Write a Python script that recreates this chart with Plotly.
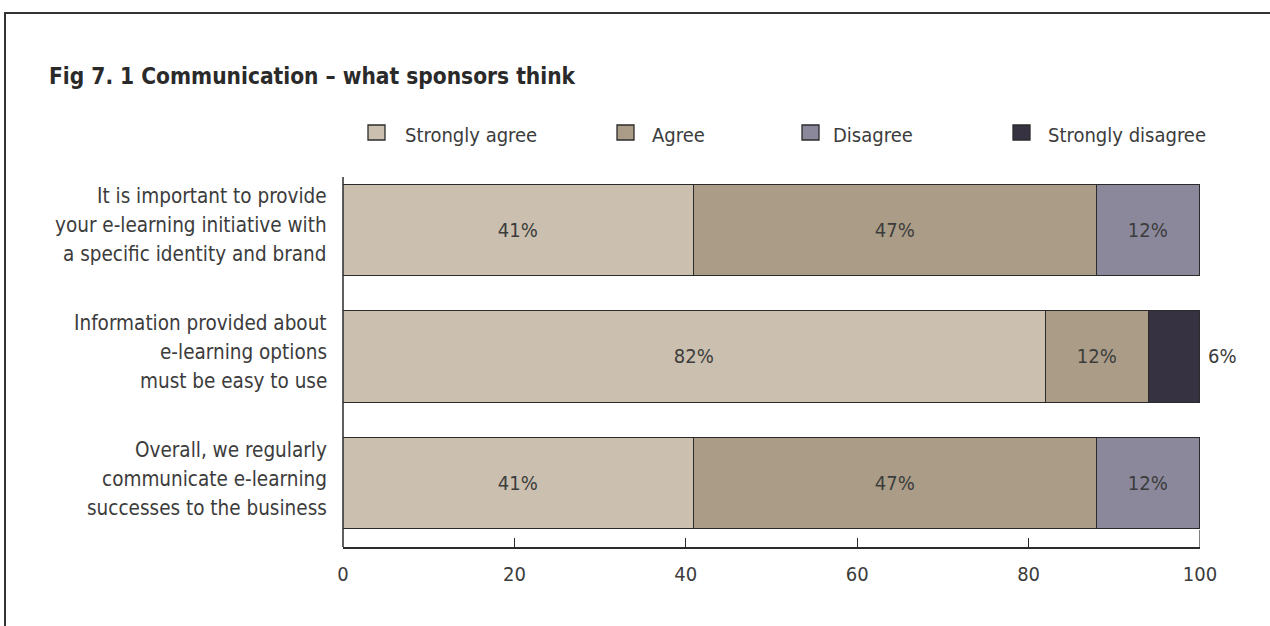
import plotly.graph_objects as go

# Survey statements (one bar each, top to bottom)
categories = [
    "It is important to provide<br>your e-learning initiative with<br>a specific identity and brand",
    "Information provided about<br>e-learning options<br>must be easy to use",
    "Overall, we regularly<br>communicate e-learning<br>successes to the business",
]

# Response shares, in percent
series_names = ["Strongly agree", "Agree", "Disagree", "Strongly disagree"]
strongly_agree = [41, 82, 41]
agree = [47, 12, 47]
disagree = [12, 0, 12]
strongly_disagree = [0, 6, 0]

x_ticks = [0, 20, 40, 60, 80, 100]

title_text = "Fig 7. 1 Communication – what sponsors think"

# ---- styling -------------------------------------------------------------
colors = ["#cbc0af", "#ab9c88", "#8b889b", "#373242"]
edge = "#2b2b2b"
text_col = "#3c3c3c"
FONT = "Liberation Sans Narrow, DejaVu Sans Condensed, Arial Narrow, sans-serif"

W, H = 1270, 626
L, R, T, B = 343, 70, 167, 79
plot_w = W - L - R
plot_h = H - T - B
LINE_GAP = 29  # spacing between lines of a statement label


def px_x(px):
    return (px - L) / plot_w


def px_y(py):
    return (H - B - py) / plot_h


series_values = [strongly_agree, agree, disagree, strongly_disagree]

fig = go.Figure()
for i, (name, vals, col) in enumerate(zip(series_names, series_values, colors)):
    last = i == len(series_names) - 1
    fig.add_trace(go.Bar(
        y=categories,
        x=vals,
        name=name,
        orientation="h",
        width=0.72,
        marker=dict(color=col, line=dict(color=edge, width=1.3)),
        # the outside label sits a little clear of the bar end
        text=[(("\u00a0" if last else "") + f"{v}%") if v else "" for v in vals],
        textposition="outside" if last else "inside",
        insidetextanchor="middle",
        constraintext="none",
        textfont=dict(family=FONT, size=20, color=text_col),
        cliponaxis=False,
        hoverinfo="skip",
        showlegend=False,
    ))

fig.update_layout(
    width=W, height=H,
    margin=dict(l=L, r=R, t=T, b=B, pad=0),
    barmode="stack",
    bargap=0,
    paper_bgcolor="white",
    plot_bgcolor="white",
    font=dict(family=FONT, color=text_col),
    xaxis=dict(
        range=[0, 100],
        tickvals=x_ticks,
        ticktext=[str(t) for t in x_ticks],
        ticks="inside",
        ticklen=9,
        tickwidth=1,
        tickcolor=edge,
        showline=True,
        linecolor=edge,
        linewidth=1.5,
        showgrid=False,
        zeroline=False,
        ticklabelstandoff=8,
        tickfont=dict(family=FONT, size=20, color=text_col),
        fixedrange=True,
    ),
    yaxis=dict(
        type="category",
        categoryorder="array",
        categoryarray=categories,
        range=[2.5, -0.5],
        showticklabels=False,
        ticks="",
        showline=False,
        showgrid=False,
        zeroline=False,
        fixedrange=True,
    ),
)

# statement labels to the left of each bar, one line at a time
for i, cat in enumerate(categories):
    lines = cat.split("<br>")
    mid = (len(lines) - 1) / 2
    for j, line in enumerate(lines):
        fig.add_annotation(
            xref="paper", yref="y", x=0, y=i,
            text=line, showarrow=False,
            xanchor="right", yanchor="middle", align="right",
            xshift=-14, yshift=5 - (j - mid) * LINE_GAP,
            font=dict(family=FONT, size=20.5, color=text_col),
        )

shapes = []
# vertical axis line
shapes.append(dict(type="line", xref="paper", yref="paper",
                   x0=0, x1=0, y0=0, y1=px_y(177),
                   line=dict(color=edge, width=1.5)))
# longer end tick at 100
shapes.append(dict(type="line", xref="x", yref="paper",
                   x0=100, x1=100, y0=0, y1=px_y(530),
                   line=dict(color=edge, width=1.2)))
# outer frame
shapes.append(dict(type="rect", xref="paper", yref="paper",
                   x0=px_x(5), x1=px_x(1300), y0=px_y(13), y1=px_y(700),
                   line=dict(color="#333333", width=2), fillcolor="rgba(0,0,0,0)",
                   layer="below"))

# legend row
legend_box_x = [368, 617, 802, 1013]
legend_text_x = [403, 650, 831, 1046]
for name, col, bx, tx in zip(series_names, colors, legend_box_x, legend_text_x):
    shapes.append(dict(type="rect", xref="paper", yref="paper",
                       x0=px_x(bx), x1=px_x(bx + 17), y0=px_y(140), y1=px_y(125),
                       fillcolor=col, line=dict(color=edge, width=1.3)))
    fig.add_annotation(
        xref="paper", yref="paper", x=px_x(tx), y=px_y(135),
        text=name, showarrow=False, xanchor="left", yanchor="middle",
        font=dict(family=FONT, size=20, color=text_col),
    )

fig.update_layout(shapes=shapes)

# chart title
fig.add_annotation(
    xref="paper", yref="paper", x=px_x(47), y=px_y(76),
    text=f"<b>{title_text}</b>", showarrow=False,
    xanchor="left", yanchor="middle",
    font=dict(family=FONT, size=22.5, color="#2a2a2a"),
)

fig.write_html("out.html", config=dict(displayModeBar=False))
